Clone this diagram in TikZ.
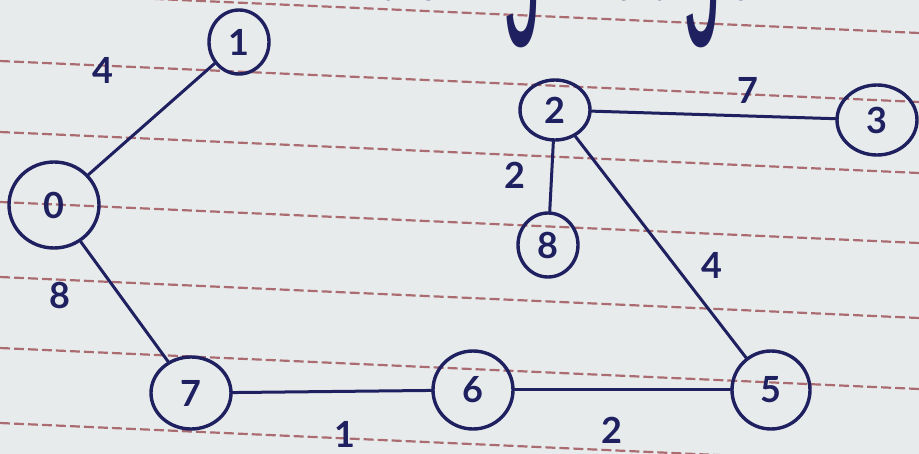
\documentclass[tikz,border=0pt]{standalone}
\usepackage{fontspec}
\usepackage{graphicx}
\setmainfont{Lato}
\newfontfamily\handfont{Liberation Sans}
\usetikzlibrary{shapes.geometric}
\definecolor{paper}{RGB}{232,235,236}
\definecolor{ink}{RGB}{30,32,96}
\definecolor{rulec}{RGB}{170,108,112}
\tikzset{
  vtx/.style={ellipse, draw=ink, line width=3.4pt, inner sep=0pt, text=ink,
    font=\fontsize{36}{38}\selectfont\bfseries},
  edge/.style={draw=ink, line width=3pt, line cap=round},
  lbl/.style={text=ink, inner sep=0pt, font=\fontsize{36}{38}\selectfont\bfseries},
  ruleline/.style={draw=rulec, line width=2.2pt, dash pattern=on 10pt off 4pt}
}
\begin{document}
\begin{tikzpicture}[x=1pt,y=-1pt]
\useasboundingbox (0,0) rectangle (919,454);
\fill[paper] (0,0) rectangle (919,454);
\begin{scope}
\clip (0,0) rectangle (919,454);
\foreach \c in {-8,61,132,202,277,348,423}
  \draw[ruleline] (0,\c) -- (919,\c+41);
\node[anchor=base west, text=ink, inner sep=0pt, font=\handfont\fontsize{70}{70}\selectfont] (top) at (372,-1) {\scalebox{1}[3.4]{usin\kern2pt g\hspace{63pt}edge}};
\end{scope}
% vertices
\node[vtx, minimum width=60pt, minimum height=64pt] (n1) at (239,42) {1};
\node[vtx, minimum width=90pt, minimum height=86pt] (n0) at (54,205) {0};
\node[vtx, minimum width=70pt, minimum height=60pt] (n2) at (555,110) {2};
\node[vtx, minimum width=80pt, minimum height=70pt] (n3) at (877,120) {3};
\node[vtx, minimum width=60pt, minimum height=64pt] (n8) at (548,245) {8};
\node[vtx, minimum width=80pt, minimum height=72pt] (n7) at (191,393) {7};
\node[vtx, minimum width=80pt, minimum height=78pt] (n6) at (473,390) {6};
\node[vtx, minimum width=78pt, minimum height=78pt] (n5) at (771,390) {5};
% edges
\draw[edge] (n1) -- (n0);
\draw[edge] (n0) -- (n7);
\draw[edge] (n7) -- (n6);
\draw[edge] (n6) -- (n5);
\draw[edge] (n5) -- (n2);
\draw[edge] (n2) -- (n8);
\draw[edge] (n2) -- (n3);
% weights
\node[lbl] (w10) at (103,70) {4};
\node[lbl] (w07) at (60,295) {8};
\node[lbl] (w76) at (345,434) {1};
\node[lbl] (w65) at (612,430) {2};
\node[lbl] (w52) at (712,265) {4};
\node[lbl] (w28) at (515,175) {2};
\node[lbl] (w23) at (748,90) {7};
\end{tikzpicture}
\end{document}
